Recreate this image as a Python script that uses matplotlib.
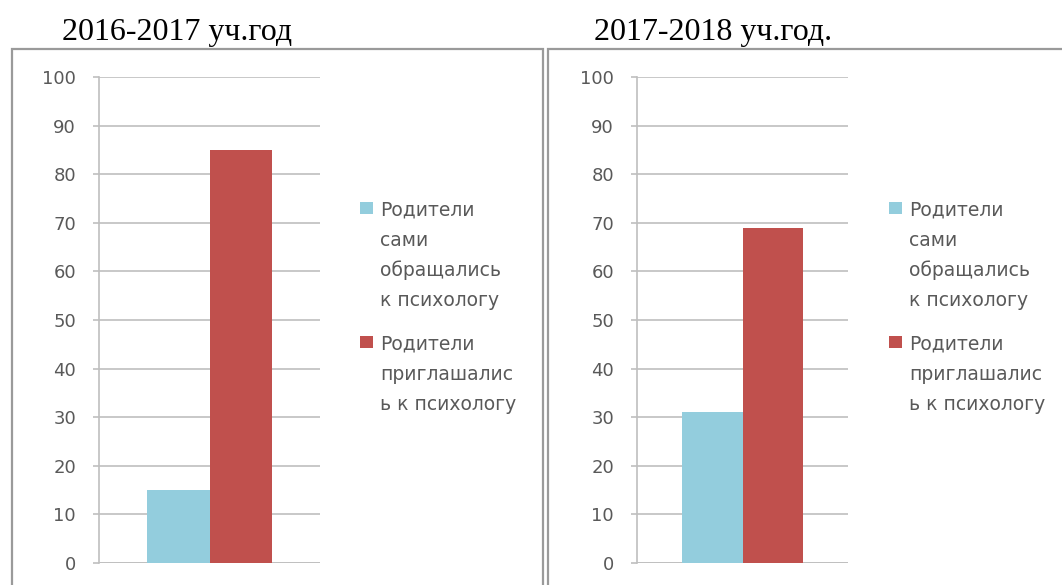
import numpy as np
import matplotlib
matplotlib.use('Agg')
import matplotlib.pyplot as plt
from matplotlib.patches import Rectangle

# data
years = ["2016-2017 уч.год", "2017-2018 уч.год."]
series_names = ["Родители\nсами\nобращались\nк психологу",
                "Родители\nприглашалис\nь к психологу"]
came_themselves = [15, 31]
were_invited = [85, 69]
colors = ["#93CDDD", "#C0504D"]
yticks = [0, 10, 20, 30, 40, 50, 60, 70, 80, 90, 100]

W, H = 1062, 585
fig = plt.figure(figsize=(W / 100, H / 100), dpi=100)
plt.rcParams['font.family'] = ['DejaVu Sans']

def fx(px):
    return px / W

def fy(py):
    return 1 - py / H

# panel frames (the boxes around each chart)
for x0, x1 in [(12, 543), (548, 1075)]:
    fig.add_artist(Rectangle((fx(x0), fy(600)), fx(x1 - x0), fy(49) - fy(600),
                             transform=fig.transFigure, fill=False,
                             edgecolor="#9a9a9a", lw=1.6, clip_on=False))

axes_px = [(99, 320), (637, 848)]
legend_x = [360, 889]
title_cx = [177, 713]
bar_w = 0.285

for i in range(2):
    l, r = axes_px[i]
    ax = fig.add_axes([fx(l), fy(563), fx(r - l), fy(77) - fy(563)])
    vals = [came_themselves[i], were_invited[i]]
    ax.bar([-bar_w / 2, bar_w / 2], vals, width=bar_w, color=colors, zorder=3)
    ax.set_xlim(-0.5, 0.5)
    ax.set_ylim(0, 100)
    ax.set_yticks(yticks)
    ax.set_xticks([])
    ax.yaxis.grid(True, color="#bfbfbf", lw=1.2, zorder=0)
    for s in ["top", "right", "bottom"]:
        ax.spines[s].set_visible(False)
    ax.spines["left"].set_color("#bfbfbf")
    ax.spines["left"].set_linewidth(1.2)
    ax.tick_params(axis="y", length=4.5, width=1.2, color="#bfbfbf",
                   labelsize=13, labelcolor="#595959", pad=12)
    ax.axhline(0, color="#bfbfbf", lw=1.2, zorder=2)

    fig.text(fx(title_cx[i]), fy(40), years[i], ha="center", va="baseline",
             fontsize=23, family=["Liberation Serif", "DejaVu Serif"])

    # legend, handle next to the first line of each label
    lx = legend_x[i]
    for k, (name, c) in enumerate(zip(series_names, colors)):
        base = [216, 350][k]
        fig.add_artist(Rectangle((fx(lx), fy(base - 2)), fx(13), fy(base - 14) - fy(base - 2),
                                 transform=fig.transFigure, color=c, lw=0))
        for j, line in enumerate(name.split("\n")):
            fig.text(fx(lx + 20), fy(base + 30 * j), line, ha="left", va="baseline",
                     fontsize=13.5, color="#595959")

plt.savefig('out.png', dpi=100)
